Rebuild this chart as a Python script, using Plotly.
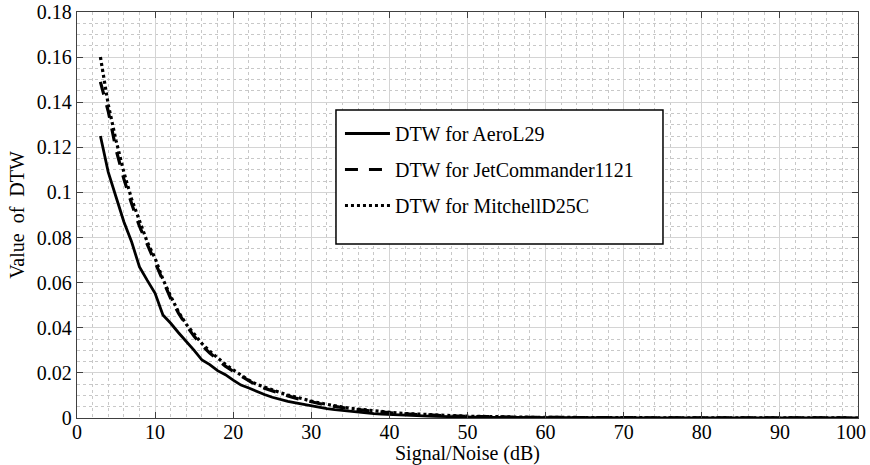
import plotly.graph_objects as go

snr_db = list(range(3, 101))

dtw_aerol29 = [
    0.1250, 0.1090, 0.0980, 0.0870, 0.0780, 0.0670, 0.0610, 0.0553, 0.0457, 0.0420,
    0.0378, 0.0340, 0.0300, 0.0257, 0.0237, 0.0210, 0.0192, 0.0168, 0.0146, 0.0133,
    0.0118, 0.0104, 0.0092, 0.0082, 0.0074, 0.0067, 0.0060, 0.0054, 0.0048, 0.0042,
    0.0037, 0.0033, 0.0029, 0.0025, 0.0022, 0.0019, 0.0017, 0.0015, 0.0013, 0.0011,
    0.0010, 0.0009, 0.0008, 0.0007, 0.0006, 0.00055, 0.0005, 0.00045, 0.0004, 0.00036,
    0.00032, 0.00029, 0.00026, 0.00023, 0.00021, 0.00019, 0.00017, 0.00015, 0.00014, 0.00013,
    0.00012, 0.00011, 0.0001, 0.00009, 0.00008, 0.00008, 0.00007, 0.00007, 0.00006, 0.00006,
    0.00005, 0.00005, 0.00005, 0.00004, 0.00004, 0.00004, 0.00004, 0.00003, 0.00003, 0.00003,
    0.00003, 0.00003, 0.00002, 0.00002, 0.00002, 0.00002, 0.00002, 0.00002, 0.00002, 0.00001,
    0.00001, 0.00001, 0.00001, 0.00001, 0.00001, 0.00001, 0.00001, 0.00001,
]

dtw_jetcommander = [
    0.1490, 0.1360, 0.1190, 0.1060, 0.0950, 0.0850, 0.0770, 0.0690, 0.0605, 0.0530,
    0.0465, 0.0410, 0.0362, 0.0322, 0.0288, 0.0258, 0.0230, 0.0207, 0.0185, 0.0164,
    0.0145, 0.0132, 0.0120, 0.0109, 0.0098, 0.0088, 0.0079, 0.0071, 0.0064, 0.0057,
    0.0051, 0.0046, 0.0041, 0.0037, 0.0033, 0.0029, 0.0026, 0.0023, 0.0020, 0.0018,
    0.0016, 0.0014, 0.0013, 0.0011, 0.0010, 0.0009, 0.0008, 0.0007, 0.00063, 0.00057,
    0.00051, 0.00046, 0.00041, 0.00037, 0.00033, 0.00030, 0.00027, 0.00024, 0.00022, 0.00020,
    0.00018, 0.00016, 0.00014, 0.00013, 0.00012, 0.00011, 0.0001, 0.00009, 0.00008, 0.00008,
    0.00007, 0.00007, 0.00006, 0.00006, 0.00005, 0.00005, 0.00005, 0.00004, 0.00004, 0.00004,
    0.00004, 0.00003, 0.00003, 0.00003, 0.00003, 0.00003, 0.00002, 0.00002, 0.00002, 0.00002,
    0.00002, 0.00002, 0.00002, 0.00002, 0.00001, 0.00001, 0.00001, 0.00001,
]

dtw_mitchell = [
    0.1600, 0.1390, 0.1230, 0.1090, 0.0970, 0.0870, 0.0780, 0.0708, 0.0615, 0.0540,
    0.0470, 0.0415, 0.0370, 0.0330, 0.0296, 0.0266, 0.0238, 0.0213, 0.0190, 0.0168,
    0.0149, 0.0136, 0.0124, 0.0113, 0.0102, 0.0092, 0.0083, 0.0075, 0.0067, 0.0060,
    0.0054, 0.0048, 0.0043, 0.0039, 0.0035, 0.0031, 0.0028, 0.0025, 0.0022, 0.0020,
    0.0018, 0.0016, 0.0014, 0.0012, 0.0011, 0.0010, 0.0009, 0.0008, 0.0007, 0.00063,
    0.00057, 0.00051, 0.00046, 0.00041, 0.00037, 0.00033, 0.00030, 0.00027, 0.00024, 0.00022,
    0.00020, 0.00018, 0.00016, 0.00014, 0.00013, 0.00012, 0.00011, 0.0001, 0.00009, 0.00009,
    0.00008, 0.00007, 0.00007, 0.00006, 0.00006, 0.00005, 0.00005, 0.00005, 0.00004, 0.00004,
    0.00004, 0.00004, 0.00003, 0.00003, 0.00003, 0.00003, 0.00003, 0.00002, 0.00002, 0.00002,
    0.00002, 0.00002, 0.00002, 0.00002, 0.00001, 0.00001, 0.00001, 0.00001,
]

series_names = ["DTW for AeroL29", "DTW for JetCommander1121", "DTW for MitchellD25C"]

x_tickvals = [0, 10, 20, 30, 40, 50, 60, 70, 80, 90, 100]
x_ticktext = ["0", "10", "20", "30", "40", "50", "60", "70", "80", "90", "100"]
y_tickvals = [0, 0.02, 0.04, 0.06, 0.08, 0.1, 0.12, 0.14, 0.16, 0.18]
y_ticktext = ["0", "0.02", "0.04", "0.06", "0.08", "0.1", "0.12", "0.14", "0.16", "0.18"]

FONT = "Liberation Serif"

fig = go.Figure()
styles = [
    dict(dash="solid", width=2.8),
    dict(dash="13px,11px", width=3.2),
    dict(dash="3px,3px", width=3.2),
]
for i, (name, ys) in enumerate(zip(series_names, [dtw_aerol29, dtw_jetcommander, dtw_mitchell])):
    fig.add_trace(go.Scatter(
        x=snr_db, y=ys, mode="lines", name=name,
        legendgroup=f"g{i}",
        line=dict(color="black", width=styles[i]["width"], dash=styles[i]["dash"]),
    ))

axis_common = dict(
    showline=True, linecolor="#404040", linewidth=1.3, mirror="ticks",
    ticks="inside", ticklen=6, tickwidth=1, tickcolor="#404040",
    showgrid=True, gridcolor="#d4d4d4", gridwidth=1,
    zeroline=False, automargin=False,
    tickfont=dict(family=FONT, size=20, color="black"),
)

# the last x label is placed as an annotation, nudged left so it stays inside the page
fig.update_xaxes(
    range=[0, 100], tickvals=x_tickvals, ticktext=x_ticktext[:-1] + [""],
    ticklabelstandoff=-4,
    title=dict(text="Signal/Noise (dB)", font=dict(family=FONT, size=20, color="black"), standoff=4),
    minor=dict(dtick=2, showgrid=True, gridcolor="#c8c8c8", griddash="dot", gridwidth=1),
    **axis_common,
)
fig.update_yaxes(
    range=[0, 0.18], tickvals=y_tickvals, ticktext=y_ticktext,
    title=dict(text="Value\u00a0\u00a0of\u00a0\u00a0DTW", font=dict(family=FONT, size=20, color="black"), standoff=6),
    minor=dict(dtick=0.005, showgrid=True, gridcolor="#c8c8c8", griddash="dot", gridwidth=1),
    **axis_common,
)

fig.add_annotation(
    x=x_tickvals[-1], xref="x", y=0, yref="paper",
    text=x_ticktext[-1], showarrow=False,
    xanchor="right", yanchor="top", xshift=10, yshift=-1,
    font=dict(family=FONT, size=20, color="black"),
)

# legend frame
fig.add_shape(type="rect", xref="paper", yref="paper",
              x0=0.3316, x1=0.7503, y0=0.4286, y1=0.7586,
              line=dict(color="black", width=1.5), fillcolor="white", layer="above")

fig.update_layout(
    width=870, height=465,
    margin=dict(l=77, r=12, t=12, b=47, autoexpand=False),
    paper_bgcolor="white", plot_bgcolor="white",
    font=dict(family=FONT, size=20, color="black"),
    showlegend=True,
    legend=dict(
        x=0.3367, y=0.7488, xanchor="left", yanchor="top",
        bgcolor="rgba(0,0,0,0)", borderwidth=0,
        font=dict(family=FONT, size=20, color="black"),
        tracegroupgap=7, itemwidth=45,
    ),
)

fig.write_html("out.html")
